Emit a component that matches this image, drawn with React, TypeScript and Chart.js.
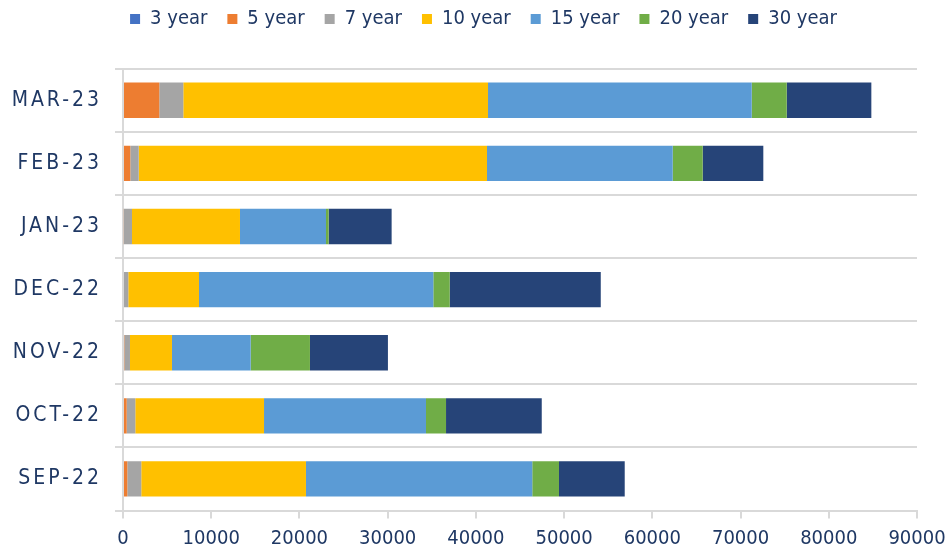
import { useEffect, useRef } from "react";
import { Chart, registerables } from "chart.js";

Chart.register(...registerables);

const categories = ["MAR-23", "FEB-23", "JAN-23", "DEC-22", "NOV-22", "OCT-22", "SEP-22"];
const seriesNames = ["3 year", "5 year", "7 year", "10 year", "15 year", "20 year", "30 year"];
const year3 = [0, 0, 0, 0, 0, 0, 0];
const year5 = [4115, 830, 100, 0, 150, 420, 490];
const year7 = [2720, 950, 920, 600, 640, 975, 1580];
const year10 = [34540, 39480, 12240, 8015, 4760, 14590, 18670];
const year15 = [29890, 21050, 9750, 26560, 8920, 18360, 25650];
const year20 = [3970, 3400, 300, 1860, 6720, 2270, 3030];
const year30 = [9590, 6870, 7140, 17120, 8840, 10850, 7450];
const seriesColors = ["#4472C4", "#ED7D31", "#A5A5A5", "#FFC000", "#5B9BD5", "#70AD47", "#264478"];
const xMin = 0;
const xMax = 90000;
const xStep = 10000;

const FONT = '"DejaVu Sans Condensed", "DejaVu Sans", sans-serif';
const TEXT = "#1F3864";
const GRID = "#D9D9D9";

export default function App() {
  const ref = useRef<HTMLCanvasElement | null>(null);

  useEffect(() => {
    if (!ref.current) return;
    const values = [year3, year5, year7, year10, year15, year20, year30];

    const tweakPlugin = {
      id: "tweaks",
      afterInit(chart: any) {
        const lg = chart.legend;
        if (lg && !lg.__patched) {
          lg.__patched = true;
          const origFit = lg.fit.bind(lg);
          lg.fit = function () {
            origFit();
            this.height = 68.7;
          };
          const origDraw = lg.draw.bind(lg);
          lg.draw = function () {
            const ctx = this.ctx;
            ctx.save();
            ctx.translate(0, -11);
            origDraw();
            ctx.restore();
          };
        }
      },
      afterDraw(chart: any) {
        const ctx = chart.ctx;
        const ys = chart.scales.y;
        const xs = chart.scales.x;
        ctx.save();
        ctx.fillStyle = TEXT;
        ctx.font = `21px ${FONT}`;
        (ctx as any).letterSpacing = "3px";
        ctx.textAlign = "right";
        ctx.textBaseline = "middle";
        categories.forEach((c, i) => {
          ctx.fillText(c, 102, ys.getPixelForValue(i));
        });
        (ctx as any).letterSpacing = "0px";
        ctx.font = `20px ${FONT}`;
        ctx.textAlign = "center";
        xs.ticks.forEach((t: any) => {
          ctx.fillText(String(t.value), xs.getPixelForValue(t.value), 539);
        });
        ctx.restore();
      },
    };

    const chart = new Chart(ref.current, {
      type: "bar",
      data: {
        labels: categories,
        datasets: seriesNames.map((name, i) => ({
          label: name,
          data: values[i],
          backgroundColor: seriesColors[i],
          borderWidth: 0,
          categoryPercentage: 0.8,
          barPercentage: 0.7,
        })),
      },
      options: {
        indexAxis: "y",
        animation: false,
        responsive: true,
        maintainAspectRatio: false,
        layout: { padding: { left: 50, right: 30, top: 0, bottom: 0 } },
        plugins: {
          legend: {
            position: "top",
            labels: {
              boxWidth: 10,
              boxHeight: 10,
              padding: 20,
              color: TEXT,
              font: { family: FONT, size: 20 },
            },
          },
          tooltip: { enabled: false },
        },
        scales: {
          x: {
            stacked: true,
            min: xMin,
            max: xMax,
            ticks: {
              stepSize: xStep,
              display: false,
            },
            grid: {
              drawOnChartArea: false,
              drawTicks: true,
              tickLength: 8,
              color: GRID,
              lineWidth: 2,
            },
            border: { display: true, color: GRID, width: 2 },
            afterFit: (s: any) => {
              s.height = 37.5;
              s.paddingLeft = 0;
              s.paddingRight = 0;
            },
          },
          y: {
            stacked: true,
            ticks: { display: false },
            grid: {
              offset: true,
              drawTicks: true,
              tickLength: 8,
              color: GRID,
              lineWidth: 2,
            },
            border: { display: true, color: GRID, width: 2 },
            afterFit: (s: any) => {
              s.width = 73;
              s.paddingTop = 0;
              s.paddingBottom = 0;
            },
          },
        },
      },
      plugins: [tweakPlugin],
    } as any);

    return () => chart.destroy();
  }, []);

  return (
    <div style={{ position: "fixed", left: 0, top: 0, width: 947, height: 548, background: "#fff" }}>
      <canvas ref={ref} />
    </div>
  );
}
